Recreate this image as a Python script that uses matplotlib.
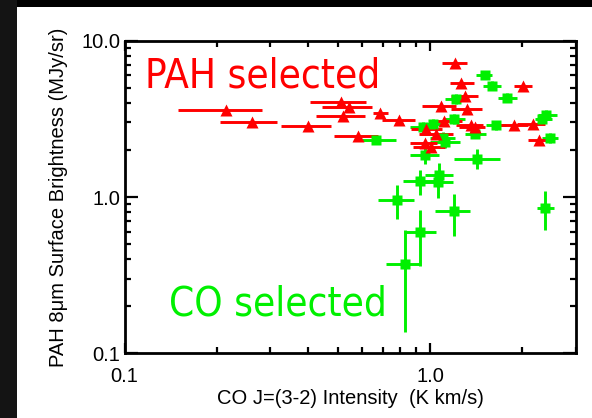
import numpy as np
import matplotlib
matplotlib.use("Agg")
import matplotlib.pyplot as plt
from matplotlib.patches import Rectangle

# ----------------------------
# DATA
# ----------------------------
# PAH selected (red triangles), horizontal error bars only
pah_x = [0.215, 0.261, 0.400, 0.510, 0.543, 0.517, 0.687, 0.792, 0.582, 1.083,
         1.21, 1.26, 1.30, 1.32, 1.114, 0.972, 1.05, 0.966, 1.006, 1.36,
         1.40, 1.88, 2.01, 2.17, 2.28]
pah_y = [3.61, 3.00, 2.83, 4.08, 3.75, 3.29, 3.47, 3.12, 2.47, 3.85,
         7.17, 5.34, 4.46, 3.66, 3.06, 2.73, 2.54, 2.21, 2.08, 2.91,
         2.80, 2.87, 5.16, 2.94, 2.32]
pah_xlo = [0.149, 0.206, 0.325, 0.405, 0.444, 0.424, 0.653, 0.695, 0.484, 0.939,
           1.095, 1.16, 1.17, 1.17, 1.00, 0.868, 0.918, 0.863, 0.88, 1.22,
           1.24, 1.66, 1.88, 1.92, 2.09]
pah_xhi = [0.282, 0.316, 0.474, 0.617, 0.644, 0.613, 0.727, 0.892, 0.678, 1.22,
           1.32, 1.39, 1.44, 1.48, 1.27, 1.095, 1.186, 1.058, 1.12, 1.49,
           1.51, 2.09, 2.15, 2.38, 2.50]

# CO selected (green squares), x and y error bars
co_x = [0.666, 1.51, 1.60, 1.79, 1.213, 1.196, 1.64, 2.40, 2.33, 2.48,
        1.40, 0.948, 1.022, 1.116, 1.10, 0.966, 1.426, 1.073, 1.06, 0.925,
        0.778, 1.195, 0.925, 0.829, 2.38]
co_y = [2.30, 6.07, 5.16, 4.31, 4.24, 3.16, 2.87, 3.37, 3.16, 2.39,
        2.54, 2.79, 2.94, 2.24, 2.40, 1.87, 1.76, 1.39, 1.24, 1.26,
        0.961, 0.81, 0.594, 0.374, 0.855]
co_xlo = [0.60, 1.41, 1.49, 1.67, 1.12, 1.10, 1.52, 2.25, 2.20, 2.33,
          1.30, 0.86, 0.93, 1.00, 1.00, 0.862, 1.20, 0.96, 0.94, 0.814,
          0.676, 1.04, 0.82, 0.716, 2.24]
co_xhi = [0.774, 1.60, 1.71, 1.92, 1.33, 1.30, 1.78, 2.60, 2.50, 2.62,
          1.52, 1.05, 1.12, 1.25, 1.21, 1.073, 1.69, 1.19, 1.19, 1.035,
          0.884, 1.35, 1.05, 0.925, 2.54]
co_ylo = [2.17, 5.75, 4.85, 4.05, 3.95, 2.95, 2.70, 3.15, 2.95, 2.22,
          2.37, 2.60, 2.75, 2.05, 2.22, 1.63, 1.52, 1.22, 0.99, 1.03,
          0.727, 0.564, 0.36, 0.137, 0.618]
co_yhi = [2.44, 6.40, 5.50, 4.60, 4.55, 3.40, 3.06, 3.62, 3.40, 2.58,
          2.72, 3.00, 3.15, 2.45, 2.60, 2.08, 2.04, 1.64, 1.39, 1.49,
          1.20, 1.05, 0.83, 0.612, 1.09]

red = "#ff0000"
green = "#00f000"

# ----------------------------
# FIGURE
# ----------------------------
fig = plt.figure(figsize=(5.92, 4.18), dpi=100, facecolor="black")
fig.add_artist(Rectangle((0, 0), 17 / 592, 1, transform=fig.transFigure,
                         facecolor="#141414", edgecolor="none", zorder=0))
fig.add_artist(Rectangle((17 / 592, 0), 1 - 17 / 592, 1 - 7 / 418,
                         transform=fig.transFigure, facecolor="white",
                         edgecolor="none", zorder=0))

ax = fig.add_axes([0.2105, 0.1548, 0.762, 0.7478])
ax.set_facecolor("white")
ax.set_xscale("log")
ax.set_yscale("log")
ax.set_xlim(0.1, 3.0)
ax.set_ylim(0.1, 10.0)

pah_x = np.array(pah_x)
pah_y = np.array(pah_y)
co_x = np.array(co_x)
co_y = np.array(co_y)
pah_xerr = [pah_x - np.array(pah_xlo), np.array(pah_xhi) - pah_x]
co_xerr = [co_x - np.array(co_xlo), np.array(co_xhi) - co_x]
co_yerr = [co_y - np.array(co_ylo), np.array(co_yhi) - co_y]

# error bars first, then the symbols on top
ax.errorbar(co_x, co_y, xerr=co_xerr, yerr=co_yerr, fmt="none",
            ecolor=green, elinewidth=2.1, capsize=0, zorder=2)
ax.errorbar(pah_x, pah_y, xerr=pah_xerr, fmt="none",
            ecolor=red, elinewidth=2.1, capsize=0, zorder=3)
ax.plot(co_x, co_y, "s", color=green, ms=7.5, mec="none", zorder=4)
ax.plot(pah_x, pah_y, "^", color=red, ms=8.5, mec="none", zorder=5)

# big labels
ax.text(0.045, 0.849, "PAH selected", transform=ax.transAxes, color=red,
        fontsize=29, family="DejaVu Sans", fontstretch="condensed",
        ha="left", va="baseline")
ax.text(0.098, 0.1225, "CO selected", transform=ax.transAxes, color=green,
        fontsize=29, family="DejaVu Sans", fontstretch="condensed",
        ha="left", va="baseline")

# axes styling
for s in ax.spines.values():
    s.set_linewidth(2.0)
ax.set_xticks([0.1, 1.0])
ax.set_xticklabels(["0.1", "1.0"])
ax.set_yticks([0.1, 1.0, 10.0])
ax.set_yticklabels(["0.1", "1.0", "10.0"])
ax.tick_params(which="both", direction="in", top=True, right=True, width=1.6,
               labelsize=14.5, labelfontfamily="Liberation Sans")
ax.tick_params(axis="x", which="major", length=7.5, pad=10)
ax.tick_params(axis="y", which="major", length=9.5, pad=3)
ax.tick_params(which="minor", length=4)
ax.xaxis.set_minor_formatter(plt.NullFormatter())
ax.yaxis.set_minor_formatter(plt.NullFormatter())

ax.set_xlabel("CO J=(3-2) Intensity  (K km/s)", fontsize=14.5,
              family="Liberation Sans", labelpad=2)
ax.set_ylabel("PAH 8\u03bcm Surface Brightness (MJy/sr)", fontsize=14.5,
              family="Liberation Sans", labelpad=10)

fig.savefig("out.png", dpi=100, facecolor="black")
